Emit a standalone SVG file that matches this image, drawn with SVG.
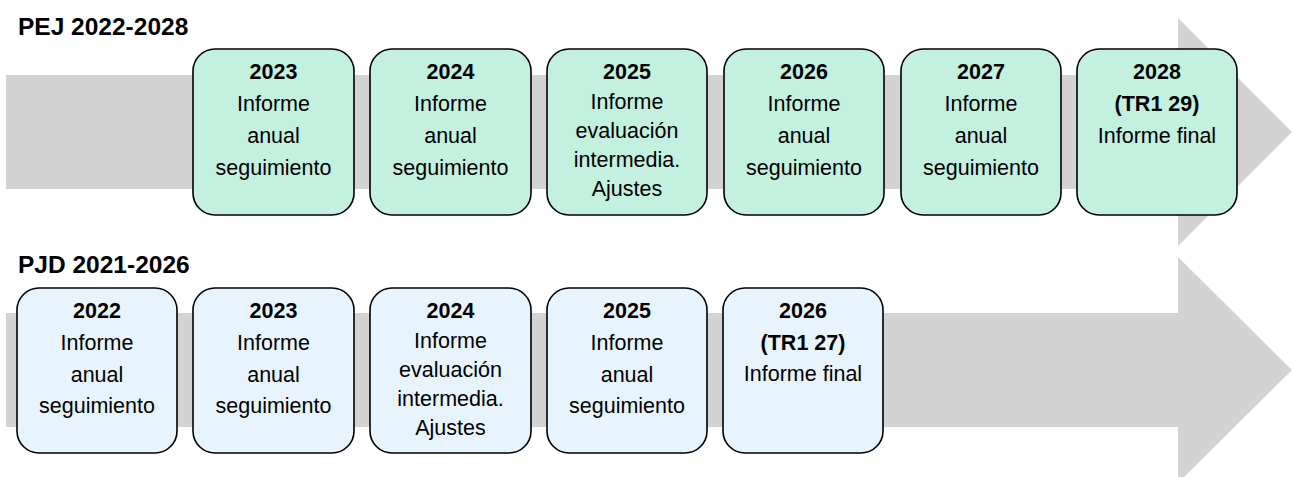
<svg xmlns="http://www.w3.org/2000/svg" width="1293" height="477" viewBox="0 0 1293 477">
<style>
.arrow{fill:#d3d3d3}
.title{font-family:"Liberation Sans",Arial,sans-serif;font-weight:bold;font-size:24.5px;fill:#000}
.box rect{stroke:#000;stroke-width:1.6}
.pej rect{fill:#c3f0df}
.pjd rect{fill:#e8f4fd}
.box text{font-family:"Liberation Sans",Arial,sans-serif;font-size:21.5px;fill:#000;text-anchor:middle}
.box .b{font-weight:bold}
</style>
<rect width="1293" height="477" fill="#fff"/>
<g id="connectors">
<polygon class="arrow" points="6,75 1178,75 1178,18 1292,132 1178,246 1178,189 6,189"/>
<polygon class="arrow" points="6,313 1178,313 1178,257 1292,370 1178,483 1178,427 6,427"/>
</g>
<text class="title" x="18" y="35">PEJ 2022-2028</text>
<text class="title" x="18" y="273">PJD 2021-2026</text>

<g id="pej2023" class="box pej">
<rect x="193" y="49" width="161" height="166" rx="22"/>
<text x="273.5" y="79" class="b">2023</text>
<text x="273.5" y="111">Informe</text>
<text x="273.5" y="143">anual</text>
<text x="273.5" y="175">seguimiento</text>
</g>
<g id="pej2024" class="box pej">
<rect x="370" y="49" width="161" height="166" rx="22"/>
<text x="450.5" y="79" class="b">2024</text>
<text x="450.5" y="111">Informe</text>
<text x="450.5" y="143">anual</text>
<text x="450.5" y="175">seguimiento</text>
</g>
<g id="pej2025" class="box pej">
<rect x="547" y="49" width="160" height="166" rx="22"/>
<text x="627" y="79" class="b">2025</text>
<text x="627" y="109">Informe</text>
<text x="627" y="138">evaluación</text>
<text x="627" y="167">intermedia.</text>
<text x="627" y="196">Ajustes</text>
</g>
<g id="pej2026" class="box pej">
<rect x="724" y="49" width="160" height="166" rx="22"/>
<text x="804" y="79" class="b">2026</text>
<text x="804" y="111">Informe</text>
<text x="804" y="143">anual</text>
<text x="804" y="175">seguimiento</text>
</g>
<g id="pej2027" class="box pej">
<rect x="901" y="49" width="160" height="166" rx="22"/>
<text x="981" y="79" class="b">2027</text>
<text x="981" y="111">Informe</text>
<text x="981" y="143">anual</text>
<text x="981" y="175">seguimiento</text>
</g>
<g id="pej2028" class="box pej">
<rect x="1077" y="49" width="160" height="166" rx="22"/>
<text x="1157" y="79" class="b">2028</text>
<text x="1157" y="111" class="b">(TR1 29)</text>
<text x="1157" y="143">Informe final</text>
</g>

<g id="pjd2022" class="box pjd">
<rect x="17" y="288" width="160" height="165" rx="22"/>
<text x="97" y="318" class="b">2022</text>
<text x="97" y="350">Informe</text>
<text x="97" y="382">anual</text>
<text x="97" y="413">seguimiento</text>
</g>
<g id="pjd2023" class="box pjd">
<rect x="193" y="288" width="161" height="165" rx="22"/>
<text x="273.5" y="318" class="b">2023</text>
<text x="273.5" y="350">Informe</text>
<text x="273.5" y="382">anual</text>
<text x="273.5" y="413">seguimiento</text>
</g>
<g id="pjd2024" class="box pjd">
<rect x="370" y="288" width="161" height="165" rx="22"/>
<text x="450.5" y="318" class="b">2024</text>
<text x="450.5" y="348">Informe</text>
<text x="450.5" y="377">evaluación</text>
<text x="450.5" y="406">intermedia.</text>
<text x="450.5" y="435">Ajustes</text>
</g>
<g id="pjd2025" class="box pjd">
<rect x="547" y="288" width="160" height="165" rx="22"/>
<text x="627" y="318" class="b">2025</text>
<text x="627" y="350">Informe</text>
<text x="627" y="382">anual</text>
<text x="627" y="413">seguimiento</text>
</g>
<g id="pjd2026" class="box pjd">
<rect x="723" y="288" width="160" height="165" rx="22"/>
<text x="803" y="318" class="b">2026</text>
<text x="803" y="350" class="b">(TR1 27)</text>
<text x="803" y="381">Informe final</text>
</g>
</svg>
